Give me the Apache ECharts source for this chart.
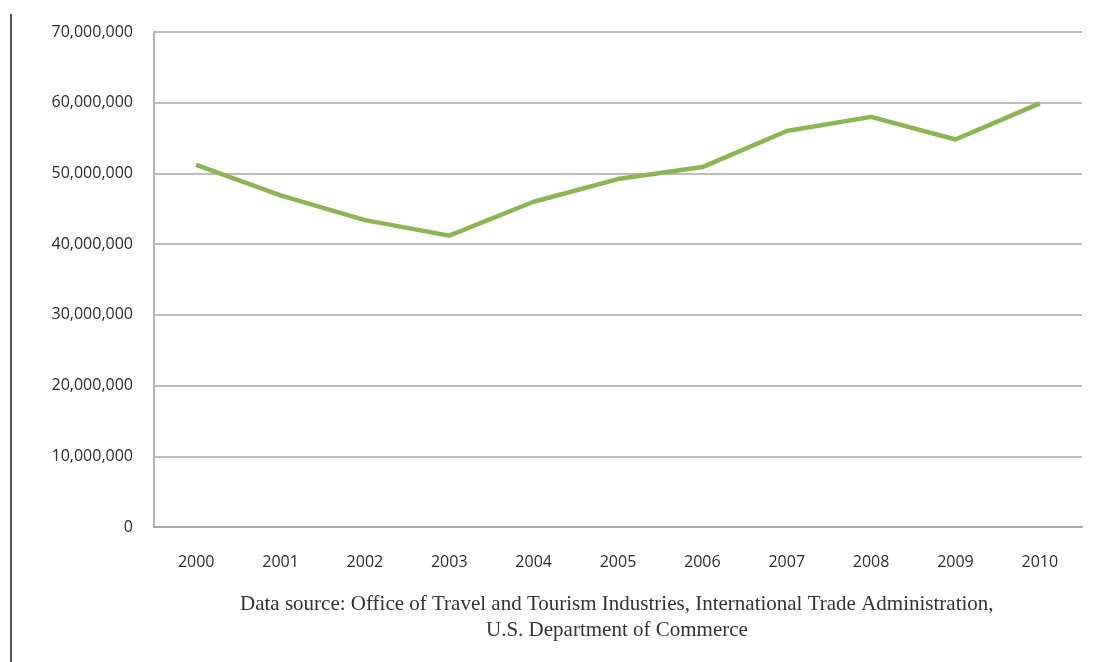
<!DOCTYPE html>
<html><head><meta charset="utf-8">
<script src="https://cdn.jsdelivr.net/npm/echarts@6/dist/echarts.min.js"></script>
<style>html,body{margin:0;padding:0;background:#fff}#c{width:1102px;height:662px}</style>
</head><body><div id="c"></div>
<script>
var years = ['2000','2001','2002','2003','2004','2005','2006','2007','2008','2009','2010'];
var visitors = [51200000, 46900000, 43400000, 41200000, 46000000, 49200000, 50900000, 56000000, 58000000, 54800000, 59900000];
var sourceLine1 = 'Data source: Office of Travel and Tourism Industries, International Trade Administration,';
var sourceLine2 = 'U.S. Department of Commerce';

var chart = echarts.init(document.getElementById('c'));
chart.setOption({
  animation: false,
  backgroundColor: '#fff',
  grid: { left: 154, right: 20, top: 32, bottom: 135 },
  xAxis: {
    type: 'category', data: years, boundaryGap: true,
    axisLine: { lineStyle: { color: '#a6a6a6', width: 2 } },
    axisTick: { show: false },
    axisLabel: { color: '#2b2b2b', fontFamily: 'Open Sans', fontSize: 16, margin: 27 }
  },
  yAxis: {
    type: 'value', min: 0, max: 70000000, interval: 10000000,
    axisLine: { show: true, lineStyle: { color: '#b3b3b3', width: 2 } },
    axisTick: { show: false },
    splitLine: { lineStyle: { color: '#a6a6a6', width: 1.5 } },
    axisLabel: {
      color: '#2b2b2b', fontFamily: 'Open Sans', fontSize: 16, margin: 21,
      formatter: function (v) { return v.toLocaleString('en-US'); }
    }
  },
  series: [{
    type: 'line', data: visitors, symbol: 'none',
    lineStyle: { color: '#8cb650', width: 4.5 }
  }],
  graphic: [
    { type: 'line', shape: { x1: 11, y1: 14, x2: 11, y2: 662 }, style: { stroke: '#555', lineWidth: 2 } },
    { type: 'text', left: 240, top: 594, style: { text: sourceLine1, fill: '#333', font: '21px "Liberation Serif"' } },
    { type: 'text', left: 486, top: 620, style: { text: sourceLine2, fill: '#333', font: '21px "Liberation Serif"' } }
  ]
});
</script></body></html>
